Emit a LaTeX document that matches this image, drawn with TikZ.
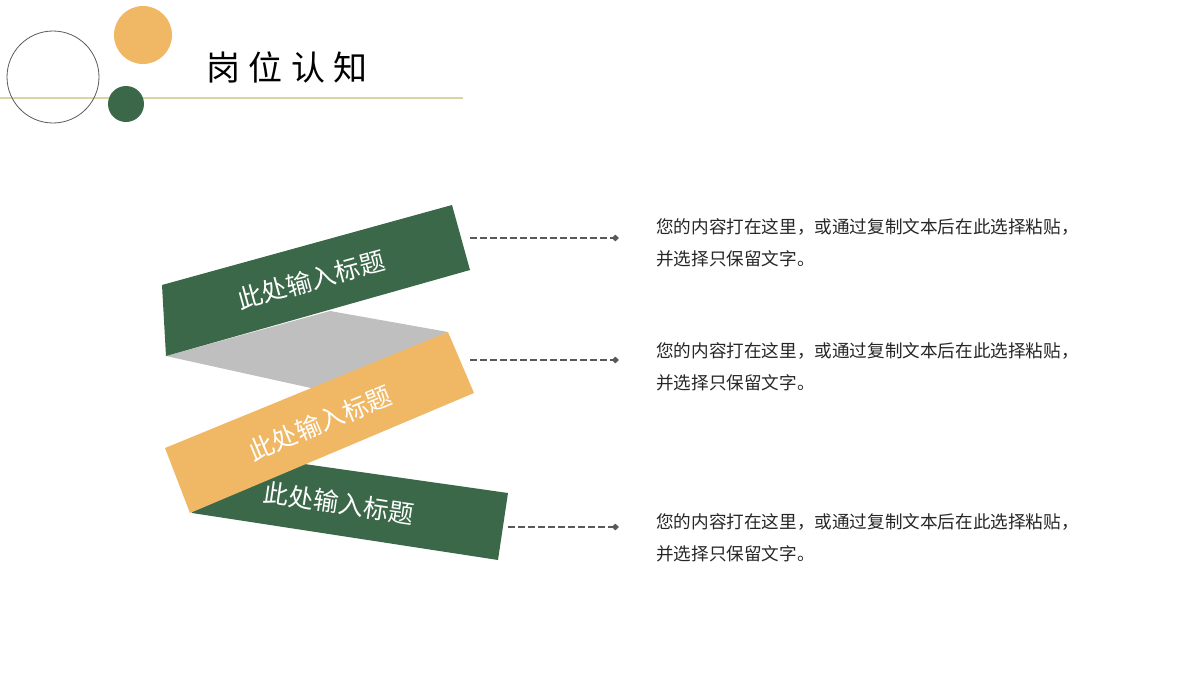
\documentclass[tikz,border=0pt]{standalone}
\usepackage{fontspec}
\setmainfont{Noto Sans CJK SC}
\newfontfamily\titlefont[LetterSpace=25]{Noto Sans CJK SC}
\usetikzlibrary{arrows.meta}
\definecolor{bandgreen}{RGB}{59,104,73}
\definecolor{bandorange}{RGB}{240,184,101}
\definecolor{foldgray}{RGB}{191,191,191}
\definecolor{ruleline}{RGB}{218,212,165}
\tikzset{
  bandtext/.style={text=white,font=\fontsize{19}{19}\selectfont,inner sep=0.75pt},
  infotext/.style={anchor=west,align=left,text=black!85,font=\fontsize{13.2}{24}\selectfont,inner sep=0.75pt},
  dashline/.style={draw=black!65,line width=1.2pt,dash pattern={on 5pt off 2.5pt},-{Diamond[length=5.5pt,width=5pt]}}
}
\begin{document}
\begin{tikzpicture}[x=0.75pt,y=0.75pt,yscale=-1,xscale=1]
\useasboundingbox (0,0) rectangle (1200,675);
% header
\draw [color=ruleline,line width=0.9pt] (0,98) -- (463,98) ;
\draw [color=black!65,line width=0.6pt] (53,77) circle [radius=46] ;
\fill [bandorange] (143,35) circle [radius=29] ;
\fill [bandgreen] (126,104) circle [radius=18] ;
\node (title) [anchor=west,inner sep=0.75pt,font=\titlefont\fontsize{25.5}{25.5}\selectfont] at (205,67) {岗位认知};
% folded ribbon
\fill [foldgray] (166,356) -- (330,311) -- (448,332) -- (320,390) -- cycle ;
\fill [bandgreen] (162,285) -- (452,205) -- (470,270) -- (166,356) -- cycle ;
\fill [bandgreen] (185,447) -- (508,493) -- (498,560) -- (192,513) -- cycle ;
\fill [bandorange] (165,448) -- (448,332) -- (474,393) -- (190,513) -- cycle ;
\node (band1) [bandtext,rotate=15.4] at (311,280) {此处输入标题};
\node (band2) [bandtext,rotate=22.5] at (320,423) {此处输入标题};
\node (band3) [bandtext,rotate=-8.5] at (339,503) {此处输入标题};
% connectors
\coordinate (s1) at (470,238) ;
\coordinate (e1) at (619,238) ;
\coordinate (s2) at (470,360) ;
\coordinate (e2) at (619,360) ;
\coordinate (s3) at (508,527) ;
\coordinate (e3) at (619,527) ;
\draw [dashline] (s1) -- (e1) ;
\draw [dashline] (s2) -- (e2) ;
\draw [dashline] (s3) -- (e3) ;
% texts
\node (info1) [infotext] at (655,243) {您的内容打在这里，或通过复制文本后在此选择粘贴，\\并选择只保留文字。};
\node (info2) [infotext] at (655,367) {您的内容打在这里，或通过复制文本后在此选择粘贴，\\并选择只保留文字。};
\node (info3) [infotext] at (655,538) {您的内容打在这里，或通过复制文本后在此选择粘贴，\\并选择只保留文字。};
\end{tikzpicture}
\end{document}
